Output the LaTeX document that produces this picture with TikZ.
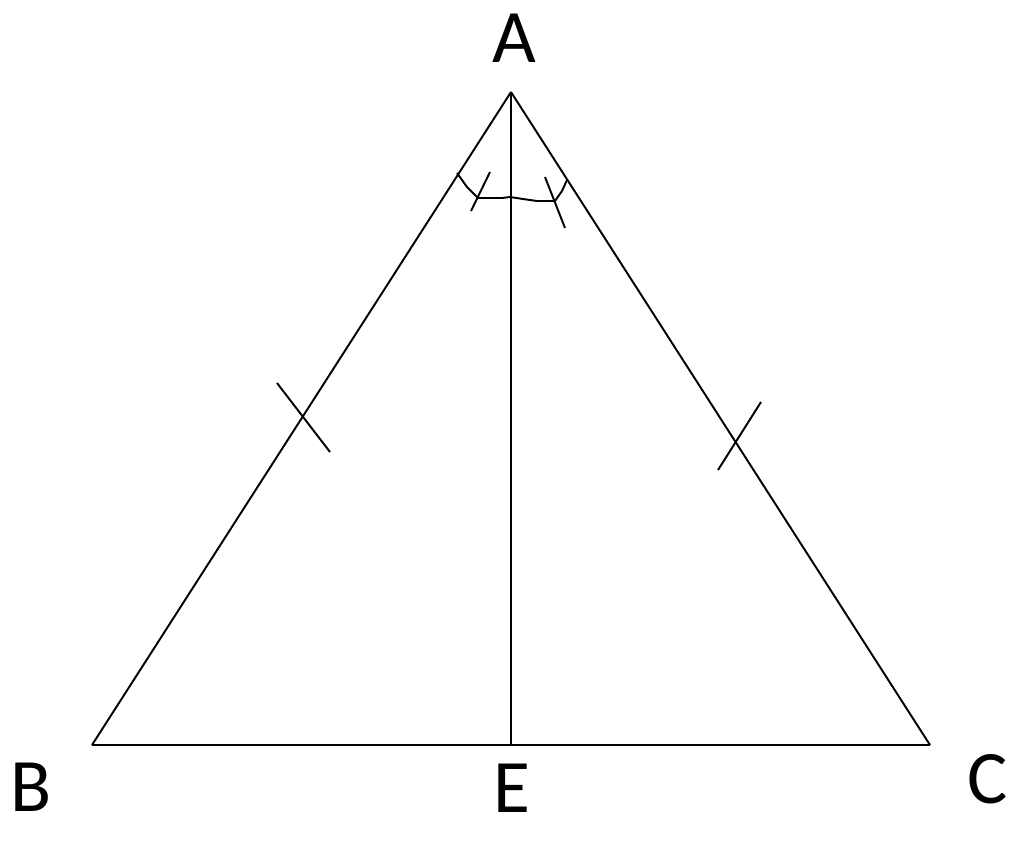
\documentclass[tikz,border=0pt]{standalone}
\usepackage{fontspec}
\setmainfont{Carlito}
\begin{document}
\begin{tikzpicture}[x=0.02cm, y=-0.02cm, line width=1.1pt]
\tikzset{lbl/.style={font=\fontsize{43}{50}\selectfont, inner sep=0pt}}
\useasboundingbox (0,0) rectangle (1024,849);
\coordinate (vA) at (511,92);
\coordinate (vB) at (92,745);
\coordinate (vC) at (930,745);
\coordinate (vE) at (511,745);
\node[lbl] (lA) at (514,38){A};
\node[lbl] (lB) at (31,787){B};
\node[lbl] (lC) at (988,779){C};
\node[lbl] (lE) at (512,788){E};
\draw[](vA) -- (vB);
\draw[](vA) -- (vC);
\draw[](vB) -- (vC);
\draw[](vA) -- (vE);
% equal sides
\draw[](277,383) -- (330,452);
\draw[](761,402) -- (718,470);
% equal angles
\draw[](457,173) -- (467,187) -- (478,198) -- (502,198) -- (510,197) -- (523,199) -- (537,201) -- (555,201) -- (562,191) -- (567,180);
\draw[](490,172) -- (471,211);
\draw[](545,177) -- (565,228);
\end{tikzpicture}
\end{document}
